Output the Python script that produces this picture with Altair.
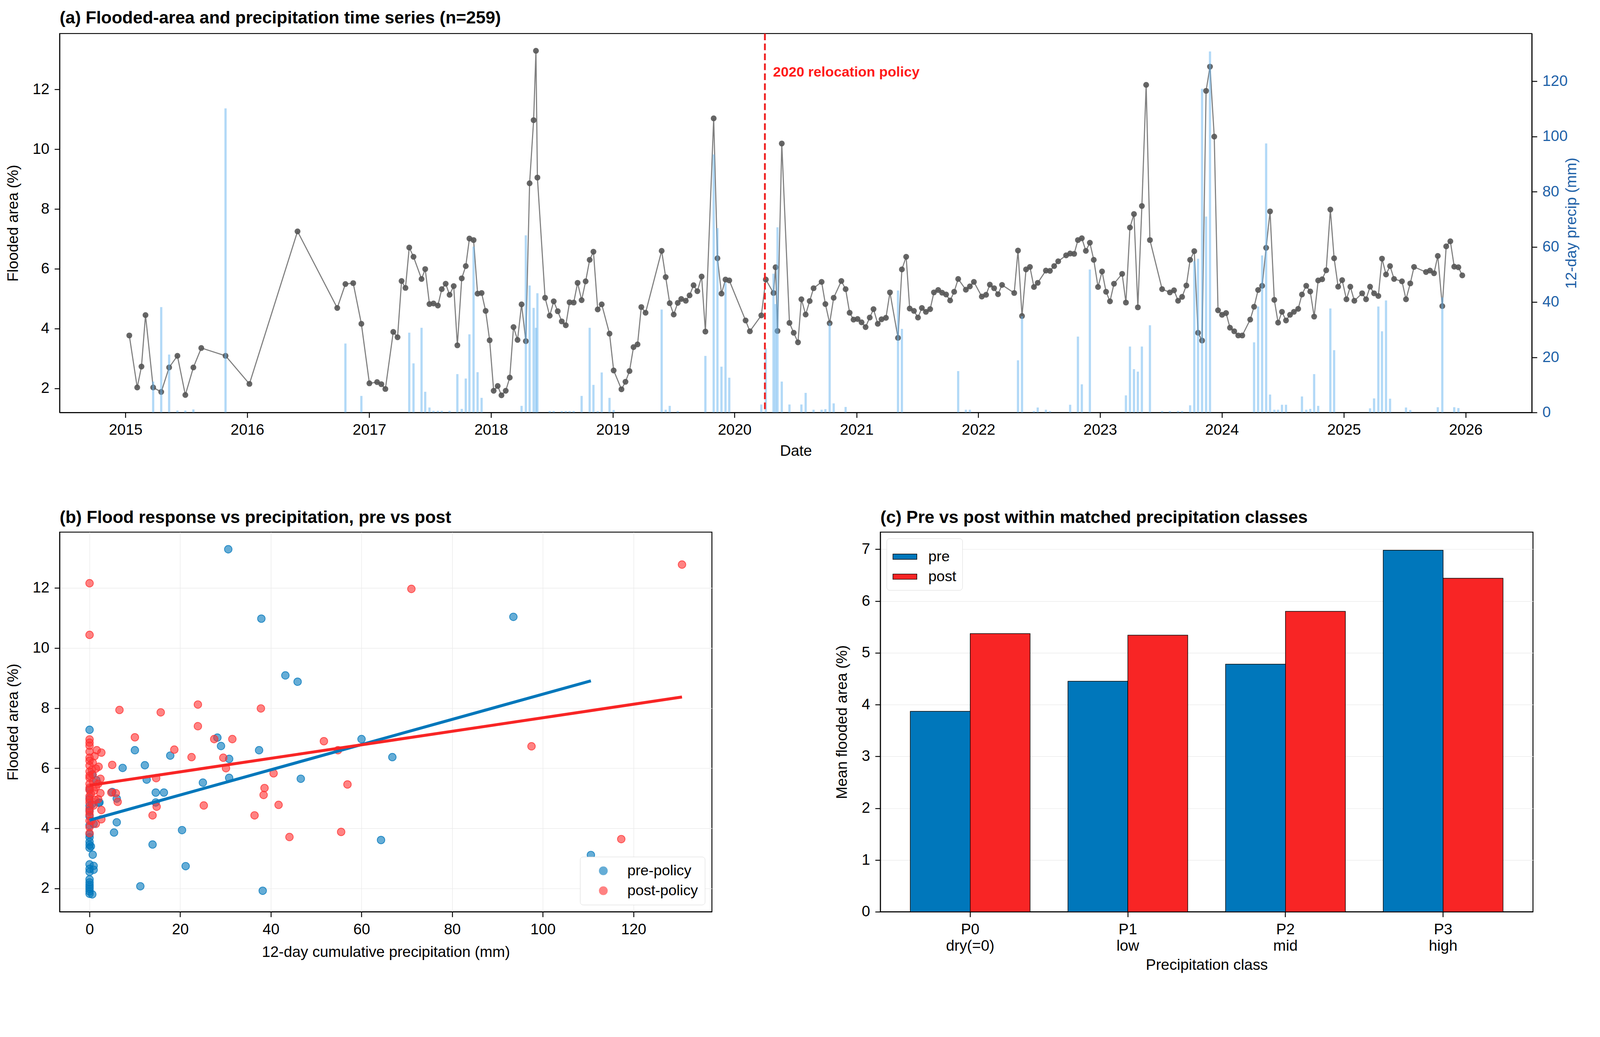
import altair as alt
import pandas as pd

# ---------------- (a) time series ----------------
ts_years = [
    2015.031, 2015.096, 2015.131, 2015.164, 2015.227, 2015.293, 2015.358, 2015.426, 2015.491, 2015.557,
    2015.622, 2015.821, 2016.017, 2016.412, 2016.738, 2016.805, 2016.869, 2016.936, 2017.002, 2017.065,
    2017.100, 2017.133, 2017.198, 2017.233, 2017.266, 2017.298, 2017.329, 2017.364, 2017.430, 2017.460,
    2017.495, 2017.528, 2017.564, 2017.596, 2017.628, 2017.660, 2017.694, 2017.724, 2017.760, 2017.793,
    2017.823, 2017.857, 2017.890, 2017.923, 2017.956, 2017.989, 2018.022, 2018.055, 2018.086, 2018.121,
    2018.154, 2018.185, 2018.218, 2018.251, 2018.286, 2018.317, 2018.350, 2018.369, 2018.381, 2018.444,
    2018.482, 2018.515, 2018.548, 2018.581, 2018.614, 2018.645, 2018.679, 2018.711, 2018.744, 2018.777,
    2018.810, 2018.841, 2018.876, 2018.909, 2018.973, 2019.007, 2019.071, 2019.104, 2019.137, 2019.170,
    2019.203, 2019.234, 2019.269, 2019.401, 2019.434, 2019.467, 2019.500, 2019.533, 2019.562, 2019.599,
    2019.630, 2019.663, 2019.694, 2019.729, 2019.760, 2019.828, 2019.859, 2019.892, 2019.925, 2019.956,
    2020.090, 2020.125, 2020.219, 2020.256, 2020.319, 2020.336, 2020.352, 2020.387, 2020.450, 2020.485,
    2020.520, 2020.548, 2020.583, 2020.616, 2020.648, 2020.714, 2020.745, 2020.780, 2020.813, 2020.876,
    2020.911, 2020.944, 2020.976, 2021.009, 2021.042, 2021.075, 2021.109, 2021.140, 2021.175, 2021.206,
    2021.242, 2021.275, 2021.341, 2021.373, 2021.408, 2021.437, 2021.472, 2021.505, 2021.537, 2021.570,
    2021.605, 2021.636, 2021.671, 2021.703, 2021.736, 2021.769, 2021.802, 2021.835, 2021.898, 2021.931,
    2021.964, 2022.029, 2022.064, 2022.095, 2022.130, 2022.162, 2022.195, 2022.295, 2022.326, 2022.359,
    2022.392, 2022.424, 2022.457, 2022.488, 2022.555, 2022.588, 2022.623, 2022.656, 2022.721, 2022.754,
    2022.787, 2022.818, 2022.850, 2022.883, 2022.916, 2022.948, 2022.983, 2023.016, 2023.049, 2023.081,
    2023.114, 2023.181, 2023.212, 2023.245, 2023.278, 2023.310, 2023.343, 2023.378, 2023.409, 2023.509,
    2023.573, 2023.607, 2023.640, 2023.673, 2023.708, 2023.739, 2023.773, 2023.804, 2023.837, 2023.870,
    2023.902, 2023.937, 2023.968, 2024.001, 2024.034, 2024.066, 2024.101, 2024.134, 2024.167, 2024.232,
    2024.264, 2024.297, 2024.330, 2024.363, 2024.395, 2024.430, 2024.461, 2024.493, 2024.526, 2024.559,
    2024.591, 2024.626, 2024.657, 2024.692, 2024.725, 2024.757, 2024.790, 2024.823, 2024.856, 2024.890,
    2024.921, 2024.954, 2024.987, 2025.022, 2025.054, 2025.087, 2025.151, 2025.183, 2025.216, 2025.249,
    2025.284, 2025.314, 2025.347, 2025.380, 2025.413, 2025.478, 2025.511, 2025.546, 2025.577, 2025.675,
    2025.708, 2025.741, 2025.772, 2025.809, 2025.841, 2025.875, 2025.907, 2025.941, 2025.973,
]
flooded = [
    3.77, 2.03, 2.73, 4.45, 2.03, 1.88, 2.70, 3.09, 1.78, 2.70,
    3.35, 3.09, 2.15, 7.25, 4.69, 5.49, 5.52, 4.16, 2.17, 2.21,
    2.14, 1.98, 3.89, 3.71, 5.59, 5.36, 6.71, 6.40, 5.66, 5.99,
    4.82, 4.84, 4.77, 5.32, 5.50, 5.13, 5.42, 3.44, 5.68, 6.09,
    7.01, 6.96, 5.17, 5.19, 4.59, 3.61, 1.92, 2.08, 1.77, 1.92,
    2.36, 4.05, 3.62, 4.81, 3.58, 8.86, 10.97, 13.29, 9.05, 5.03,
    4.43, 4.91, 4.58, 4.24, 4.11, 4.88, 4.87, 5.53, 4.95, 5.58,
    6.30, 6.57, 4.64, 4.81, 3.83, 2.60, 1.97, 2.22, 2.58, 3.38,
    3.47, 4.72, 4.53, 6.60, 5.72, 4.85, 4.47, 4.86, 4.99, 4.93,
    5.11, 5.45, 5.25, 5.74, 3.90, 11.03, 6.35, 5.17, 5.64, 5.61,
    4.27, 3.91, 4.44, 5.64, 5.19, 6.05, 3.92, 10.19, 4.19, 3.86,
    3.54, 4.98, 4.47, 4.92, 5.35, 5.56, 4.82, 4.18, 5.03, 5.59,
    5.32, 4.53, 4.30, 4.32, 4.21, 4.05, 4.37, 4.65, 4.16, 4.31,
    4.36, 5.21, 3.69, 5.98, 6.40, 4.67, 4.59, 4.37, 4.69, 4.56,
    4.65, 5.21, 5.29, 5.20, 5.14, 4.94, 5.23, 5.66, 5.30, 5.41,
    5.56, 5.07, 5.13, 5.47, 5.35, 5.15, 5.46, 5.19, 6.61, 4.42,
    5.98, 6.06, 5.39, 5.53, 5.94, 5.93, 6.09, 6.25, 6.45, 6.51,
    6.50, 6.96, 7.02, 6.60, 6.87, 6.30, 5.39, 5.91, 5.23, 4.91,
    5.50, 5.83, 4.87, 7.38, 7.83, 4.71, 8.10, 12.15, 6.96, 5.32,
    5.21, 5.28, 4.93, 5.06, 5.44, 6.30, 6.59, 3.86, 3.60, 11.95,
    12.76, 10.42, 4.61, 4.46, 4.52, 4.03, 3.91, 3.77, 3.77, 4.30,
    4.73, 5.29, 5.43, 6.70, 7.92, 4.96, 4.20, 4.56, 4.27, 4.46,
    4.56, 4.66, 5.14, 5.43, 5.24, 4.40, 5.61, 5.65, 5.95, 7.98,
    6.35, 5.40, 5.62, 4.98, 5.40, 4.93, 5.18, 4.98, 5.40, 5.18,
    5.09, 6.34, 5.81, 6.09, 5.66, 5.58, 4.98, 5.51, 6.06, 5.89,
    5.94, 5.85, 6.43, 4.75, 6.75, 6.92, 6.07, 6.05, 5.78,
]
precip = [
    0, 0, 0, 0, 11.2, 38.2, 21.0, 0.7, 0.7, 1.1,
    0, 110.2, 0, 0, 0, 25.0, 0, 6.0, 0, 0,
    0, 0, 0, 0, 0, 0, 28.9, 17.8, 30.7, 7.5,
    1.8, 0.6, 0.6, 0.6, 0, 0.6, 0, 13.9, 1.3, 12.3,
    28.3, 60.1, 14.6, 5.3, 0, 0, 0, 0, 0, 0,
    0, 0, 0, 2.4, 64.2, 46.0, 37.9, 30.7, 43.2, 0,
    0.5, 0.5, 0, 0.5, 0.5, 0.5, 0.5, 0, 6.0, 0,
    30.7, 10.0, 0.5, 14.5, 5.3, 0.9, 0, 0, 0, 0,
    0, 0, 0, 37.3, 1.0, 2.4, 0, 0.5, 0, 0,
    0, 0, 0, 0, 20.5, 93.5, 66.8, 16.6, 47.1, 12.6,
    0, 0, 2.9, 23.2, 50.3, 39.3, 67.1, 11.2, 2.9, 0,
    0, 2.9, 7.1, 0, 1.0, 1.0, 1.2, 32.5, 3.3, 0,
    2.0, 0, 0, 0, 0, 0, 0, 0, 0, 0,
    0, 0, 44.2, 30.3, 0, 0, 0, 0, 0, 0,
    0, 0, 0, 0, 0, 0, 0, 15.0, 1.0, 1.0,
    0, 0, 0, 0, 0, 0, 0, 0, 18.9, 34.9,
    0, 0, 0.5, 1.8, 1.0, 0.5, 0, 0, 0, 2.8,
    0, 27.5, 10.2, 0, 51.8, 0, 0, 0, 0, 0,
    0, 0, 6.2, 23.9, 15.7, 14.8, 23.9, 0, 31.6, 0.5,
    0.5, 0, 0.5, 0.5, 0, 2.6, 54.9, 55.7, 117.3, 71.0,
    130.8, 0, 0, 0, 0, 0, 0, 0, 0, 0,
    25.4, 38.4, 56.9, 97.5, 6.5, 1.0, 1.0, 2.8, 2.8, 0,
    0, 0, 5.8, 1.0, 1.3, 13.9, 2.4, 0, 0, 37.7,
    22.6, 0, 0, 0, 0, 0, 0, 0, 1.5, 5.1,
    38.4, 29.4, 40.6, 5.0, 0, 0, 1.8, 0.9, 0, 0,
    0, 0, 1.9, 41.7, 0, 0, 1.9, 1.6, 0,
]
policy_date = ["2020-04-01"]
policy_label = ["2020 relocation policy"]

# ---------------- (b) scatter ----------------
pre_precip = [30.6, 37.9, 93.5, 43.2, 45.9, 110.6, 0, 28.2, 29.0, 60.0, 10.0, 37.4, 17.8, 66.8, 30.8, 12.2, 7.3,
              12.6, 30.8, 46.6, 25.0, 14.6, 16.4, 5.0, 6.0, 14.6, 2.2, 6.0, 5.4, 20.4, 13.9, 64.3, 21.2, 11.2, 38.2,
              0, 0, 0, 0, 0, 0.3, 0.7, 0, 0.9, 0, 0, 0.9, 0, 0, 0, 0, 0, 0, 0, 0.6,
              0, 0.9, 0, 0, 0, 0.5, 2.0, 0, 0, 1.5, 0.6]
pre_flood = [13.29, 10.98, 11.04, 9.09, 8.88, 3.11, 7.28, 7.02, 6.74, 6.97, 6.60, 6.60, 6.42, 6.37, 6.31, 6.10, 6.01,
             5.62, 5.68, 5.65, 5.52, 5.19, 5.19, 5.21, 4.99, 4.86, 4.86, 4.20, 3.86, 3.94, 3.46, 3.61, 2.74, 2.07, 1.92,
             3.35, 3.45, 3.55, 3.70, 3.80, 3.40, 3.12, 2.80, 2.75, 2.65, 2.55, 2.62, 2.30, 2.20, 2.12, 2.05, 1.98, 1.90, 1.82, 1.80,
             4.10, 4.15, 4.40, 4.60, 4.75, 4.80, 4.85, 5.00, 5.30, 5.60, 5.80]
post_precip = [0, 0, 71.0, 130.7, 6.6, 15.7, 23.9, 37.8, 23.9, 10.0, 27.5, 31.5, 51.7, 97.5, 54.8, 18.7, 2.6, 22.5,
               29.5, 5.0, 30.1, 40.6, 14.7, 2.4, 56.9, 38.6, 38.4, 5.8, 4.8, 6.2, 25.2, 41.7, 14.8, 13.9, 36.4, 55.5,
               44.1, 117.3, 2.6, 2.6,
               0, 0, 0, 0, 0, 0, 0, 0, 0, 0, 0, 0, 0, 0, 0, 0, 0.7, 0.7, 1.4, 1.4, 0.9, 1.9, 1.9, 2.4, 1.1, 1.6,
               0.4, 1.4, 0.5, 0.3, 0.8, 0, 0, 0, 0, 0, 0, 1.2, 2.0, 1.0]
post_flood = [12.16, 10.44, 11.97, 12.78, 7.94, 7.86, 8.12, 7.99, 7.40, 7.03, 6.97, 6.97, 6.90, 6.73, 6.60, 6.62, 6.52,
              6.37, 6.35, 6.11, 6.00, 5.83, 5.67, 5.65, 5.46, 5.34, 5.11, 5.17, 5.19, 4.88, 4.76, 4.78, 4.72, 4.43,
              4.43, 3.88, 3.71, 3.64, 4.61, 4.30,
              6.96, 6.75, 6.55, 6.35, 6.09, 5.89, 5.68, 5.48, 5.27, 5.07, 4.86, 4.66, 4.45, 4.25, 4.04, 3.84, 6.19,
              5.78, 5.37, 5.99, 4.76, 5.48, 4.97, 5.17, 6.40, 6.60, 4.25, 4.15, 5.95, 5.15, 5.55, 6.85, 6.25, 5.75,
              5.35, 4.95, 4.55, 4.95, 6.05, 5.25]
pre_fit_precip = [0, 110.6]
pre_fit_flood = [4.27, 8.91]
post_fit_precip = [0, 130.7]
post_fit_flood = [5.43, 8.37]

# ---------------- (c) bars ----------------
class_codes = ["P0", "P1", "P2", "P3"]
class_names = ["dry(=0)", "low", "mid", "high"]
pre_means = [3.87, 4.45, 4.78, 6.98]
post_means = [5.37, 5.34, 5.80, 6.44]

BLUE = "#0077bb"
RED = "#f82525"
AXBLUE = "#1f62a8"
FONT = "Liberation Sans"
TITLE = dict(frame="group", anchor="start")

# ---------- panel a ----------
ts = pd.DataFrame({"yr": ts_years, "flooded": flooded, "precip": precip})
ts["date"] = pd.to_datetime("2015-01-01") + pd.to_timedelta((ts["yr"] - 2015) * 365.25, unit="D")
ts = ts.drop(columns=["yr"])

xdom = [alt.DateTime(year=2014, month=6, date=23), alt.DateTime(year=2026, month=7, date=13)]
xenc = alt.X("date:T", title="Date",
             scale=alt.Scale(domain=xdom),
             axis=alt.Axis(values=[alt.DateTime(year=y, month=1, date=1) for y in range(2015, 2027)],
                           format="%Y", grid=False, labelOverlap=False, titlePadding=17))
base = alt.Chart(ts).encode(x=xenc)
yfl = alt.Y("flooded:Q", title="Flooded area (%)",
            scale=alt.Scale(domain=[1.194, 13.866], nice=False, zero=False),
            axis=alt.Axis(values=[2, 4, 6, 8, 10, 12], format="d", grid=False))
line = base.mark_line(color="#7f7f7f", strokeWidth=3).encode(y=yfl)
pts = base.mark_point(filled=True, color="#555555", size=250, opacity=0.9).encode(y=alt.Y("flooded:Q"))

pol = pd.DataFrame({"date": policy_date, "label": policy_label})
ptext = alt.Chart(pol).mark_text(align="left", baseline="middle", dx=22, fontSize=38, fontWeight="bold",
                                 color="#ff1a1a", font=FONT).encode(
    x=alt.X("date:T"), y=alt.datum(12.56), text="label:N")
prule = alt.Chart(pol).mark_rule(color="#f02020", strokeWidth=5, strokeDash=[18, 9]).encode(x=alt.X("date:T"))

bars = base.mark_bar(color="#66b3f0", opacity=0.5, size=6).encode(
    y=alt.Y("precip:Q", title="12-day precip (mm)",
            scale=alt.Scale(domain=[0, 137.3], nice=False),
            axis=alt.Axis(orient="right", values=[0, 20, 40, 60, 80, 100, 120], grid=False,
                          labelColor=AXBLUE, titleColor=AXBLUE, titleAngle=270, titlePadding=32)))

top = alt.layer(alt.layer(line, pts, ptext), bars, prule).resolve_scale(y="independent").properties(
    width=3986, height=1026,
    title=alt.Title("(a) Flooded-area and precipitation time series (n=259)", **TITLE))

# ---------- panel b ----------
sc = pd.concat([
    pd.DataFrame({"p": pre_precip, "v": pre_flood, "group": "pre-policy"}),
    pd.DataFrame({"p": post_precip, "v": post_flood, "group": "post-policy"}),
])
xb = alt.X("p:Q", title="12-day cumulative precipitation (mm)",
           scale=alt.Scale(domain=[-6.6, 137.3], nice=False, zero=False),
           axis=alt.Axis(values=[0, 20, 40, 60, 80, 100, 120], grid=True, gridColor="#ebebeb", gridWidth=1.5,
                         titlePadding=22))
yb = alt.Y("v:Q", title="Flooded area (%)",
           scale=alt.Scale(domain=[1.22, 13.86], nice=False, zero=False),
           axis=alt.Axis(values=[2, 4, 6, 8, 10, 12], format="d", grid=True, gridColor="#ebebeb", gridWidth=1.5))
cscale = alt.Scale(domain=["pre-policy", "post-policy"], range=[BLUE, "#ff3030"])
scatter = alt.Chart(sc).mark_circle(size=420, fillOpacity=0.6, strokeWidth=2, strokeOpacity=0.8).encode(
    x=xb, y=yb,
    color=alt.Color("group:N", scale=cscale,
                    legend=alt.Legend(title=None, orient="bottom-right", offset=19, fillColor="white",
                                      strokeColor="#d5d5d5", padding=18, cornerRadius=8,
                                      labelFontSize=40, symbolSize=500, rowPadding=14,
                                      symbolOffset=25, labelOffset=45,
                                      symbolOpacity=0.6, labelFont=FONT, labelLimit=0)),
    stroke=alt.Stroke("group:N", scale=cscale, legend=None))
fit_pre = alt.Chart(pd.DataFrame({"p": pre_fit_precip, "v": pre_fit_flood})).mark_line(
    color=BLUE, strokeWidth=8).encode(x="p:Q", y="v:Q")
fit_post = alt.Chart(pd.DataFrame({"p": post_fit_precip, "v": post_fit_flood})).mark_line(
    color=RED, strokeWidth=8).encode(x="p:Q", y="v:Q")
panel_b = alt.layer(scatter, fit_pre, fit_post).properties(
    width=1766, height=1028, title=alt.Title("(b) Flood response vs precipitation, pre vs post", **TITLE))

# ---------- panel c ----------
cls = [c + "|" + n for c, n in zip(class_codes, class_names)]
bar_df = pd.concat([
    pd.DataFrame({"cls": cls, "period": "pre", "mean": pre_means}),
    pd.DataFrame({"cls": cls, "period": "post", "mean": post_means}),
])
rect_path = "M-1,-0.22L1,-0.22L1,0.22L-1,0.22Z"
panel_c = alt.Chart(bar_df).mark_bar(stroke="black", strokeWidth=1.5).encode(
    x=alt.X("cls:N", sort=cls, title="Precipitation class",
            scale=alt.Scale(paddingInner=0.24, paddingOuter=0.19),
            axis=alt.Axis(labelExpr="split(datum.label, '|')", labelAngle=0, labelLineHeight=45,
                          labelBaseline="top", grid=False, titlePadding=12)),
    xOffset=alt.XOffset("period:N", sort=["pre", "post"], scale=alt.Scale(paddingInner=0, paddingOuter=0)),
    y=alt.Y("mean:Q", title="Mean flooded area (%)",
            scale=alt.Scale(domain=[0, 7.33], nice=False),
            axis=alt.Axis(values=[0, 1, 2, 3, 4, 5, 6, 7], grid=True, gridColor="#ebebeb", gridWidth=1.5)),
    color=alt.Color("period:N", sort=["pre", "post"],
                    scale=alt.Scale(domain=["pre", "post"], range=[BLUE, RED]),
                    legend=alt.Legend(title=None, orient="top-left", offset=17, fillColor="white",
                                      strokeColor="#d5d5d5", padding=16, cornerRadius=8,
                                      labelFontSize=40, symbolType=rect_path, symbolSize=4200,
                                      symbolStrokeColor="black", symbolStrokeWidth=1.5,
                                      labelOffset=30, rowPadding=0, labelFont=FONT)),
).properties(width=1767, height=1028,
             title=alt.Title("(c) Pre vs post within matched precipitation classes", **TITLE))

chart = alt.vconcat(
    top,
    alt.hconcat(panel_b, panel_c, spacing=328).resolve_scale(color="independent", stroke="independent"),
    spacing=132,
).resolve_scale(color="independent", stroke="independent").properties(
    background="white",
    padding={"left": 5, "right": 47, "top": -57, "bottom": -40},
).configure(font=FONT).configure_view(
    stroke="black", strokeWidth=2.5
).configure_axis(
    labelFontSize=41, titleFontSize=41, titleFontWeight="normal", labelColor="black", titleColor="black",
    tickColor="black", tickWidth=2.5, tickSize=14, domainColor="black", domainWidth=2.5,
    labelPadding=14, titlePadding=31, labelFont=FONT, titleFont=FONT
).configure_title(
    fontSize=47, fontWeight="bold", offset=15, color="black", font=FONT
)

chart.save("out.html", embed_options={"renderer": "svg", "actions": False})
